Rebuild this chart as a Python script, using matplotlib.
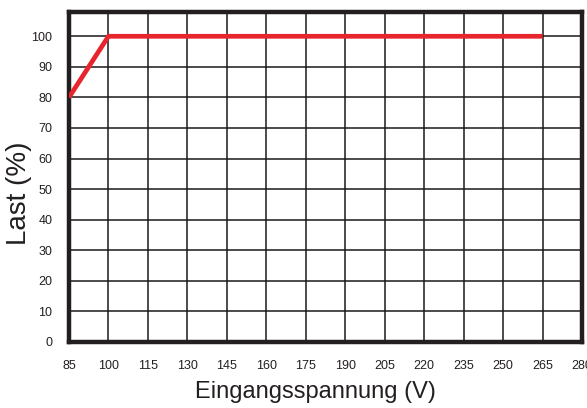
import matplotlib
matplotlib.use('Agg')
import matplotlib.pyplot as plt

# Daten: Lastkurve ueber Eingangsspannung
spannung = [85, 100, 265]
last = [80, 100, 100]
x_ticks = list(range(85, 281, 15))
y_ticks = list(range(0, 101, 10))

plt.rcParams['font.family'] = ['Liberation Sans', 'DejaVu Sans']

fig = plt.figure(figsize=(5.87, 4.08), dpi=100)
ax = fig.add_axes([0.1175, 0.162, 0.874, 0.809])

ax.plot(spannung, last, color='#e8252d', linewidth=3.4, solid_capstyle='butt', zorder=3)

ax.set_xlim(85, 280)
ax.set_ylim(0, 108)
ax.set_xticks(x_ticks)
ax.set_yticks(y_ticks)
ax.grid(True, color='#1a1a1a', linewidth=1.1)
ax.set_axisbelow(True)
ax.tick_params(length=0, labelsize=9, colors='#231f20')
ax.tick_params(axis='x', pad=13)
ax.tick_params(axis='y', pad=12)

for s in ax.spines.values():
    s.set_linewidth(3.2)
    s.set_color('#231f20')

ax.set_xlabel('Eingangsspannung (V)', fontsize=17, color='#231f20')
ax.xaxis.set_label_coords(0.481, -0.118)
ax.set_ylabel('Last (%)', fontsize=20, color='#231f20')
ax.yaxis.set_label_coords(-0.072, 0.45)

fig.savefig('out.png', dpi=100)
